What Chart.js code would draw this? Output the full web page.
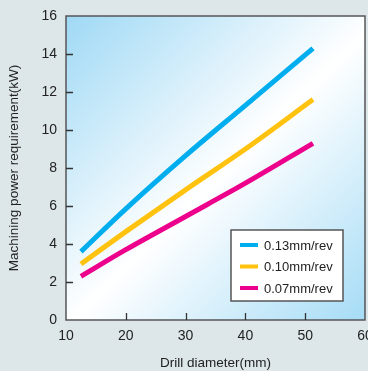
<!DOCTYPE html>
<html>
<head>
<meta charset="utf-8">
<script src="https://cdn.jsdelivr.net/npm/chart.js@4/dist/chart.umd.min.js"></script>
<style>
  html, body { margin: 0; padding: 0; background: #dde7ea; overflow: hidden; }
  #wrap { width: 368px; height: 371px; }
</style>
</head>
<body>
<div id="wrap"><canvas id="c" width="368" height="371"></canvas></div>
<script>
// Data
const drillDiameter = [12.5, 20, 30, 40, 51.3];            // mm
const power013 = [3.6, 5.85, 8.65, 11.3, 14.3];            // kW, 0.13mm/rev
const power010 = [2.95, 4.65, 6.85, 9.0, 11.6];            // kW, 0.10mm/rev
const power007 = [2.3, 3.7, 5.45, 7.2, 9.3];               // kW, 0.07mm/rev
const seriesLabels = ['0.13mm/rev', '0.10mm/rev', '0.07mm/rev'];
const xTickValues = [10, 20, 30, 40, 50, 60];
const yTickValues = [0, 2, 4, 6, 8, 10, 12, 14, 16];

const toPoints = (ys) => drillDiameter.map((x, i) => ({x, y: ys[i]}));

const FONT = "'Liberation Sans', Arial, sans-serif";
const TITLE_SIZE = 13.5;
const LEGEND_SIZE = 13;

const backgroundPlugin = {
  id: 'plotBackground',
  beforeDatasetsDraw(chart) {
    const {ctx, chartArea: a} = chart;
    const g = ctx.createLinearGradient(a.left, a.top, a.right, a.bottom);
    g.addColorStop(0, '#9fd9f5');
    g.addColorStop(0.52, '#ffffff');
    g.addColorStop(1, '#a5dcf6');
    ctx.save();
    ctx.fillStyle = g;
    ctx.fillRect(a.left, a.top, a.right - a.left, a.bottom - a.top);
    ctx.restore();
  },
  afterDraw(chart) {
    const {ctx, chartArea: a, scales} = chart;
    ctx.save();
    ctx.strokeStyle = '#555';
    ctx.lineWidth = 1.5;
    ctx.strokeRect(a.left, a.top, a.right - a.left, a.bottom - a.top);
    ctx.strokeStyle = '#333';
    ctx.lineWidth = 1.3;
    ctx.beginPath();
    xTickValues.slice(1, -1).forEach(v => {
      const px = Math.round(scales.x.getPixelForValue(v)) + 0.5;
      ctx.moveTo(px, a.bottom);
      ctx.lineTo(px, a.bottom - 7);
    });
    yTickValues.slice(1, -1).forEach(v => {
      const py = Math.round(scales.y.getPixelForValue(v)) + 0.5;
      ctx.moveTo(a.left, py);
      ctx.lineTo(a.left + 7, py);
    });
    ctx.stroke();
    ctx.restore();
  }
};

const legendPlugin = {
  id: 'insetLegend',
  afterDatasetsDraw(chart) {
    const {ctx} = chart;
    const bx = 231, by = 230, bw = 112, bh = 71;
    ctx.save();
    ctx.fillStyle = '#ffffff';
    ctx.fillRect(bx, by, bw, bh);
    ctx.strokeStyle = '#555';
    ctx.lineWidth = 1.5;
    ctx.strokeRect(bx, by, bw, bh);
    chart.data.datasets.forEach((ds, i) => {
      const y = by + 15 + i * 21.5;
      ctx.strokeStyle = ds.borderColor;
      ctx.lineWidth = 4;
      ctx.beginPath();
      ctx.moveTo(bx + 9, y);
      ctx.lineTo(bx + 27, y);
      ctx.stroke();
      ctx.fillStyle = '#222';
      ctx.font = LEGEND_SIZE + "px " + FONT;
      ctx.textBaseline = 'middle';
      ctx.textAlign = 'left';
      ctx.fillText(ds.label, bx + 33, y + 1);
    });
    ctx.restore();
  }
};

new Chart(document.getElementById('c'), {
  type: 'line',
  data: {
    datasets: [
      {label: seriesLabels[0], data: toPoints(power013), borderColor: '#00aeef'},
      {label: seriesLabels[1], data: toPoints(power010), borderColor: '#ffc20e'},
      {label: seriesLabels[2], data: toPoints(power007), borderColor: '#ec008c'}
    ]
  },
  options: {
    responsive: false,
    animation: false,
    layout: {padding: {top: 16, right: 3, left: 0, bottom: 0}},
    elements: {
      line: {borderWidth: 5, cubicInterpolationMode: 'monotone', borderCapStyle: 'butt', fill: false},
      point: {radius: 0, hoverRadius: 0}
    },
    plugins: {legend: {display: false}, tooltip: {enabled: false}},
    scales: {
      x: {
        type: 'linear', min: 10, max: 60,
        afterBuildTicks: (s) => { s.ticks = xTickValues.map(v => ({value: v})); },
        afterFit: (s) => { s.height = 51; s.paddingLeft = 0; s.paddingRight = 0; },
        grid: {display: false, drawTicks: false},
        border: {display: false},
        ticks: {padding: 8, color: '#222', font: {family: FONT, size: 14}, maxRotation: 0, autoSkip: false},
        title: {display: true, text: 'Drill diameter(mm)', color: '#222',
                font: {family: FONT, size: TITLE_SIZE}, padding: {top: 0, bottom: 0}}
      },
      y: {
        min: 0, max: 16,
        afterBuildTicks: (s) => { s.ticks = yTickValues.map(v => ({value: v})); },
        afterFit: (s) => { s.width = 66; s.paddingTop = 0; s.paddingBottom = 0; },
        grid: {display: false, drawTicks: false},
        border: {display: false},
        ticks: {padding: 9, color: '#222', font: {family: FONT, size: 14}, autoSkip: false},
        title: {display: true, text: 'Machining power requirement(kW)', color: '#222',
                font: {family: FONT, size: TITLE_SIZE}, padding: {top: 6, bottom: 0}}
      }
    }
  },
  plugins: [backgroundPlugin, legendPlugin]
});
</script>
</body>
</html>
